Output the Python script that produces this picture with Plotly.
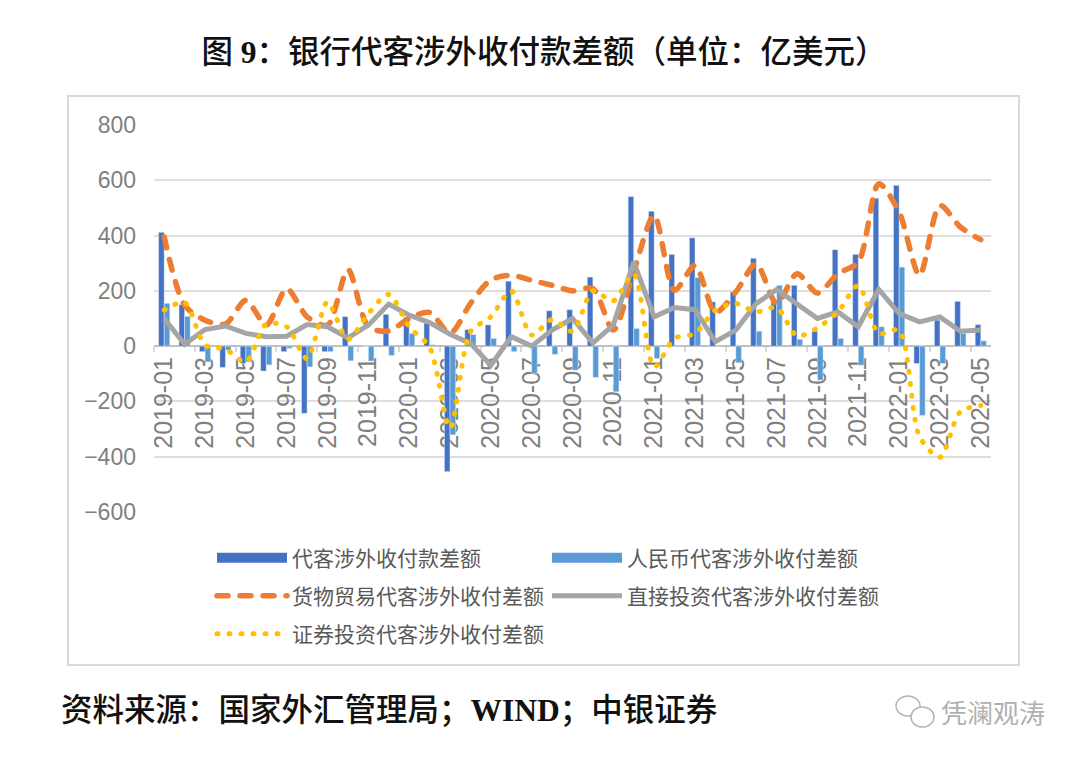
import plotly.graph_objects as go

months = [f"{y}-{m:02d}" for y in (2019, 2020, 2021) for m in range(1, 13)]
months += [f"2022-{m:02d}" for m in range(1, 6)]

total = [412, 150, -20, -77, -62, -90, -20, -243, -20, 107, 0, 115, 105, 83,
         -454, 60, 77, 235, -2, 128, 132, 250, 3, 541, 488, 332, 392, 160,
         196, 318, 160, 220, 54, 349, 332, 535, 582, -63, 94, 162, 78]
rmb = [155, 108, -57, -15, -57, -68, -8, -75, -20, -53, -54, -34, 46, 5,
       -321, 42, 28, -20, -100, -30, -87, -113, -165, 64, -45, 3, 248, 3,
       -60, 54, 220, 25, -123, 28, -69, 70, 286, -251, -63, 46, 19]
goods = [395, 148, 94, 80, 166, 76, 208, 106, 76, 277, 70, 55, 100, 122,
         46, 154, 240, 256, 238, 220, 200, 208, 58, 270, 473, 202, 292, 122,
         196, 298, 154, 262, 192, 262, 304, 587, 485, 256, 509, 431, 385]
direct = [100, 7, 60, 73, 46, 34, 36, 78, 70, 30, 76, 152, 112, 85,
          43, 10, -69, 34, 0, 58, 100, 12, 76, 304, 106, 140, 132, 16,
          58, 154, 205, 154, 100, 124, 70, 205, 118, 88, 106, 54, 58]
securities = [130, 158, 4, -11, -57, 80, 70, -45, 160, 24, 118, 187, 70, -4,
              -297, 52, 106, 200, 40, 96, 54, 200, 164, 260, -75, 28, 46, 130,
              154, 124, 140, 37, 66, 124, 219, 46, 57, -327, -402, -237, -215]

names = ["代客涉外收付款差额", "人民币代客涉外收付差额", "货物贸易代客涉外收付差额",
         "直接投资代客涉外收付差额", "证券投资代客涉外收付差额"]
colors = ["#4472c4", "#5b9bd5", "#ed7d31", "#a5a5a5", "#ffc000"]

CJK = "Noto Sans CJK SC"
SERIF = "Liberation Serif, Noto Sans CJK SC"
W, H = 1080, 758

fig = go.Figure()
fig.add_trace(go.Bar(x=months, y=total, marker_color=colors[0], showlegend=False))
fig.add_trace(go.Bar(x=months, y=rmb, marker_color=colors[1], showlegend=False))
fig.add_trace(go.Scatter(x=months, y=goods, mode="lines", legend="legend3", name=names[2],
                         line=dict(color=colors[2], width=5.5, shape="spline", smoothing=0.8,
                                   dash="11px,12px")))
fig.add_trace(go.Scatter(x=months, y=direct, mode="lines", legend="legend4", name=names[3],
                         line=dict(color=colors[3], width=5)))
fig.add_trace(go.Scatter(x=months, y=securities, mode="lines", legend="legend5", name=names[4],
                         line=dict(color=colors[4], width=5, shape="spline", smoothing=0.8,
                                   dash="1px,11px")))
# plotly's bar legend symbol is a small square, the reference has long flat keys
fig.add_trace(go.Scatter(x=months[:1], y=[None], mode="lines", legend="legend", name=names[0],
                         line=dict(color=colors[0], width=10)))
fig.add_trace(go.Scatter(x=months[:1], y=[None], mode="lines", legend="legend2", name=names[1],
                         line=dict(color=colors[1], width=10)))


def legend_at(px, py):
    return dict(x=px / W, y=1 - py / H, xanchor="left", yanchor="middle", itemwidth=70,
                bgcolor="rgba(0,0,0,0)", font=dict(family=CJK, size=21, color="#595959"))


fig.update_layout(
    width=W, height=H,
    margin=dict(l=0, r=0, t=0, b=0, autoexpand=False),
    paper_bgcolor="white", plot_bgcolor="white",
    barmode="group", bargap=0.45, bargroupgap=0,
    title=dict(text="图 <b>9</b>：银行代客涉外收付款差额（单位：亿美元）", x=544 / W, y=1 - 52 / H,
               xanchor="center", yanchor="middle",
               font=dict(family=SERIF, size=31.5, color="#111111", weight=500)),
    legend=legend_at(212, 558), legend2=legend_at(547, 558),
    legend3=legend_at(212, 596), legend4=legend_at(547, 596),
    legend5=legend_at(212, 634),
    xaxis=dict(
        type="category", categoryorder="array", categoryarray=months,
        domain=[154 / W, 991 / W], anchor="free", position=1 - 346 / H,
        dtick=2, tickson="boundaries", tickangle=-90,
        tickfont=dict(family="Liberation Sans", size=25, color="#7f7f7f"),
        showgrid=False, zeroline=False, layer="below traces",
        showline=True, linecolor="#bfbfbf", linewidth=2,
        ticks="outside", ticklen=5, tickcolor="#d9d9d9", tickwidth=1.5,
    ),
    yaxis=dict(
        domain=[1 - 512 / H, 1 - 125 / H], range=[-600, 800], tick0=-600, dtick=200,
        tickfont=dict(family="Liberation Sans", size=23, color="#7f7f7f"),
        gridcolor="#dedede", gridwidth=2, zeroline=False, ticklabelstandoff=18,
        layer="below traces", anchor="free", position=154 / W,
    ),
    shapes=[
        dict(type="rect", xref="paper", yref="paper", x0=68 / W, x1=1019 / W,
             y0=1 - 665 / H, y1=1 - 96 / H, line=dict(color="#d9d9d9", width=2), layer="below"),
        dict(type="circle", xref="paper", yref="paper", x0=896 / W, x1=920 / W,
             y0=1 - 716 / H, y1=1 - 696 / H, line=dict(color="#b5b5b5", width=1.5)),
        dict(type="circle", xref="paper", yref="paper", x0=911 / W, x1=934 / W,
             y0=1 - 727 / H, y1=1 - 707 / H, line=dict(color="#b5b5b5", width=1.5),
             fillcolor="white"),
    ],
    annotations=[
        dict(text="资料来源：国家外汇管理局；<b>WIND</b>；中银证券", xref="paper", yref="paper",
             x=59 / W, y=1 - 710 / H, xanchor="left", yanchor="middle", showarrow=False,
             font=dict(family=SERIF, size=31.5, color="#111111", weight=500)),
        dict(text="凭澜观涛", xref="paper", yref="paper", x=939 / W, y=1 - 711 / H,
             xanchor="left", yanchor="middle", showarrow=False,
             font=dict(family=CJK, size=26, color="#b0b0b0")),
    ],
)

# round dash caps, plotly has no attribute for it
post_script = """
document.body.style.margin = '0';
document.querySelectorAll('.js-line').forEach(function (p) {
  var d = p.style.strokeDasharray;
  if (d && d !== 'none') { p.style.strokeLinecap = 'round'; }
});
"""
fig.write_html("out.html", post_script=post_script, config=dict(displayModeBar=False))
